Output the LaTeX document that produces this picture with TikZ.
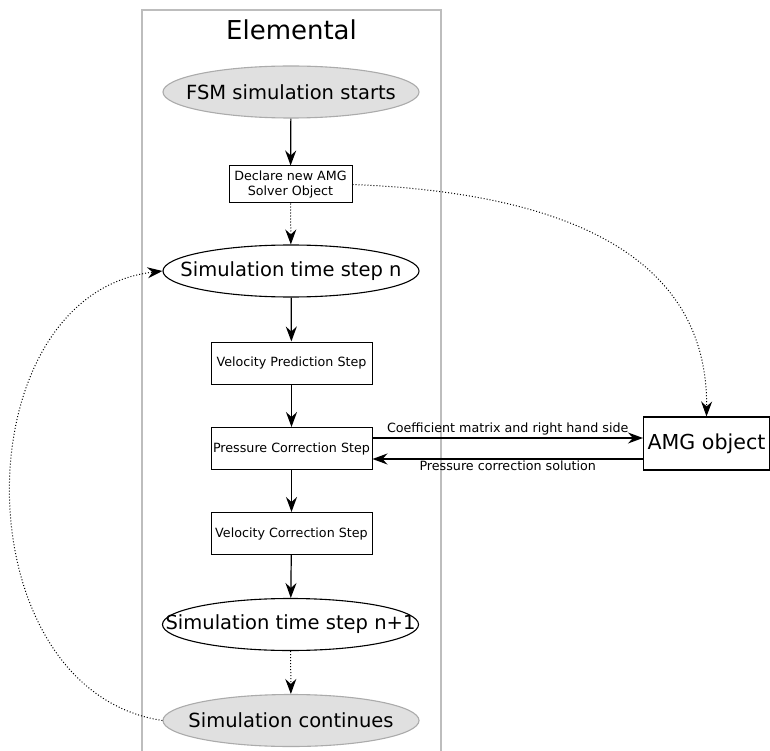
\documentclass[tikz,border=0pt]{standalone}
\usepackage{fontspec}
\setmainfont{DejaVu Sans}
\usetikzlibrary{shapes.geometric,arrows.meta,calc}
\definecolor{framegray}{HTML}{BDBDBD}
\definecolor{fillgray}{HTML}{E0E0E0}
\definecolor{edgegray}{HTML}{ABABAB}
\tikzset{
  ell/.style={ellipse, draw=black, line width=1.1pt, minimum width=256pt, minimum height=52pt, inner sep=0pt, font=\fontsize{19.5}{23}\selectfont},
  gell/.style={ell, draw=edgegray, fill=fillgray},
  stepbox/.style={rectangle, draw=black, line width=1pt, minimum width=161pt, minimum height=42pt, inner sep=0pt, font=\fontsize{12.7}{15}\selectfont},
  conn/.style={line width=1.2pt, -{Stealth[length=15pt,width=11pt,inset=5pt]}},
  dconn/.style={line width=1pt, dotted, -{Stealth[length=15pt,width=11pt,inset=5pt]}},
  lbl/.style={font=\fontsize{12.7}{15}\selectfont},
}
\begin{document}
\begin{tikzpicture}[x=1pt,y=-1pt]
\useasboundingbox (0,0) rectangle (770,751);
\draw[framegray, line width=2pt] (142,10) rectangle (441,800);
\node[font=\fontsize{26}{30}\selectfont] (title) at (291.5,30) {Elemental};
\node[gell] (start) at (291,92) {\makebox[0pt]{FSM simulation starts}};
\node[stepbox, minimum width=123pt, minimum height=37pt, align=center] (declare) at (290.5,184.5) {Declare new AMG\\Solver Object};
\node[ell] (tn) at (291,271) {\makebox[0pt]{Simulation time step n}};
\node[stepbox] (vp) at (291.5,363) {Velocity Prediction Step};
\node[stepbox] (pc) at (291.5,448.5) {Pressure Correction Step};
\node[stepbox] (vc) at (291.5,533.5) {Velocity Correction Step};
\node[ell] (tn1) at (290.5,624.5) {\makebox[0pt]{Simulation time step n+1}};
\node[gell] (cont) at (291,720.5) {\makebox[0pt]{Simulation continues}};
\node[rectangle, draw=black, line width=1.1pt, minimum width=126pt, minimum height=53pt, inner sep=0pt, font=\fontsize{20.6}{24}\selectfont] (amg) at (706.5,443.5) {AMG object};

\draw[conn] (start) -- (declare);
\draw[dconn] (declare) -- (tn);
\draw[conn] (tn) -- (vp);
\draw[conn] (vp) -- (pc);
\draw[conn] (pc) -- (vc);
\draw[conn] (vc) -- (tn1);
\draw[dconn] (tn1) -- (cont);
\draw[conn] ([yshift=10.5pt]pc.east) -- node[lbl, above, inner sep=2pt] {Coefficient matrix and right hand side} ([yshift=5.5pt]amg.west);
\draw[conn] ([yshift=-15.5pt]amg.west) -- node[lbl, below, inner sep=1.5pt] {Pressure correction solution} ([yshift=-10.5pt]pc.east);
\draw[dconn] (declare.east) .. controls (545,192) and (708,245) .. (amg.north);
\draw[dconn] (cont.west) .. controls (-40,690) and (-40,295) .. (tn.west);
\end{tikzpicture}
\end{document}
